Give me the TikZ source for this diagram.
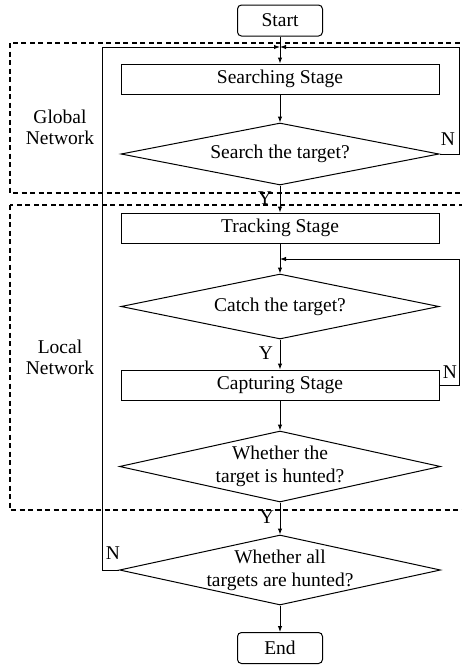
\documentclass[tikz,border=0pt]{standalone}
\usepackage{fontspec}
\setmainfont{Liberation Serif}
\usetikzlibrary{shapes.geometric,arrows.meta}

\tikzset{
  base/.style={font=\fontsize{19.5}{23}\selectfont, inner sep=0pt},
  termbox/.style={base, draw, line width=1pt, rounded corners=4pt, minimum width=85pt, minimum height=31pt},
  stagebox/.style={base, draw, line width=1pt, minimum width=318pt, minimum height=30pt},
  decision/.style={base, draw, line width=1pt, diamond, aspect=4.4, align=center,
    inner xsep=-30pt, inner ysep=-6pt},
  flow/.style={line width=1pt},
  arr/.style={flow, -{Latex[length=6pt,width=4.5pt]}},
  region/.style={line width=1.5pt, dash pattern=on 5pt off 3.5pt},
  tag/.style={font=\fontsize{19.5}{23}\selectfont, inner sep=0pt},
  side/.style={font=\fontsize{19.5}{21}\selectfont, align=center, inner sep=0pt}
}

\begin{document}
\begin{tikzpicture}[x=1pt,y=-1pt]
  \useasboundingbox (0,0) rectangle (462,665);
  \begin{scope}
    \clip (0,0) rectangle (462,665);
    % network regions
    \draw[region] (10,43) rectangle (480,193);
    \draw[region] (10,205) rectangle (480,510);
  \end{scope}

  \node[side] (global) at (60,127) {Global\\Network};
  \node[side] (local) at (60,357) {Local\\Network};

  % flow nodes
  \node[termbox] (start) at (280,20.5) {Start};
  \coordinate (j1) at (280,47);
  \node[stagebox] (search) at (280,79) {Searching Stage};
  \node[decision, minimum width=318pt, minimum height=62pt] (d1) at (280,154) {Search the target?};
  \node[stagebox] (track) at (280,228) {Tracking Stage};
  \coordinate (j2) at (280,259);
  \node[decision, minimum width=318pt, minimum height=65pt] (d2) at (280,306.5) {Catch the target?};
  \node[stagebox] (cap) at (280,385) {Capturing Stage};
  \node[decision, minimum width=321pt, minimum height=71pt] (d3) at (280,466.5) {Whether the\\target is hunted?};
  \node[decision, minimum width=321pt, minimum height=70pt] (d4) at (280,570) {Whether all\\targets are hunted?};
  \node[termbox] (end) at (280,648) {End};

  % connectors
  \draw[flow] (start) -- (j1);
  \draw[arr] (j1) -- (search);
  \draw[arr] (search) -- (d1);
  \draw[arr] (d1) -- (track);
  \draw[flow] (track) -- (j2);
  \draw[arr] (j2) -- (d2);
  \draw[arr] (d2) -- (cap);
  \draw[arr] (cap) -- (d3);
  \draw[arr] (d3) -- (d4);
  \draw[arr] (d4) -- (end);

  % loops back
  \draw[arr] (d1.east) -- (459,154) -- (459,47) -- (j1);
  \draw[arr] (d4.west) -- (102,570) -- (102,47) -- (j1);
  \draw[arr] (cap.east) -- (459,385) -- (459,259) -- (j2);

  % branch labels
  \node[tag] (y1) at (265,198) {Y};
  \node[tag] (n1) at (448,139) {N};
  \node[tag] (y2) at (266,353) {Y};
  \node[tag] (n2) at (450,372) {N};
  \node[tag] (y3) at (267,517) {Y};
  \node[tag] (n3) at (113,553) {N};
\end{tikzpicture}
\end{document}
